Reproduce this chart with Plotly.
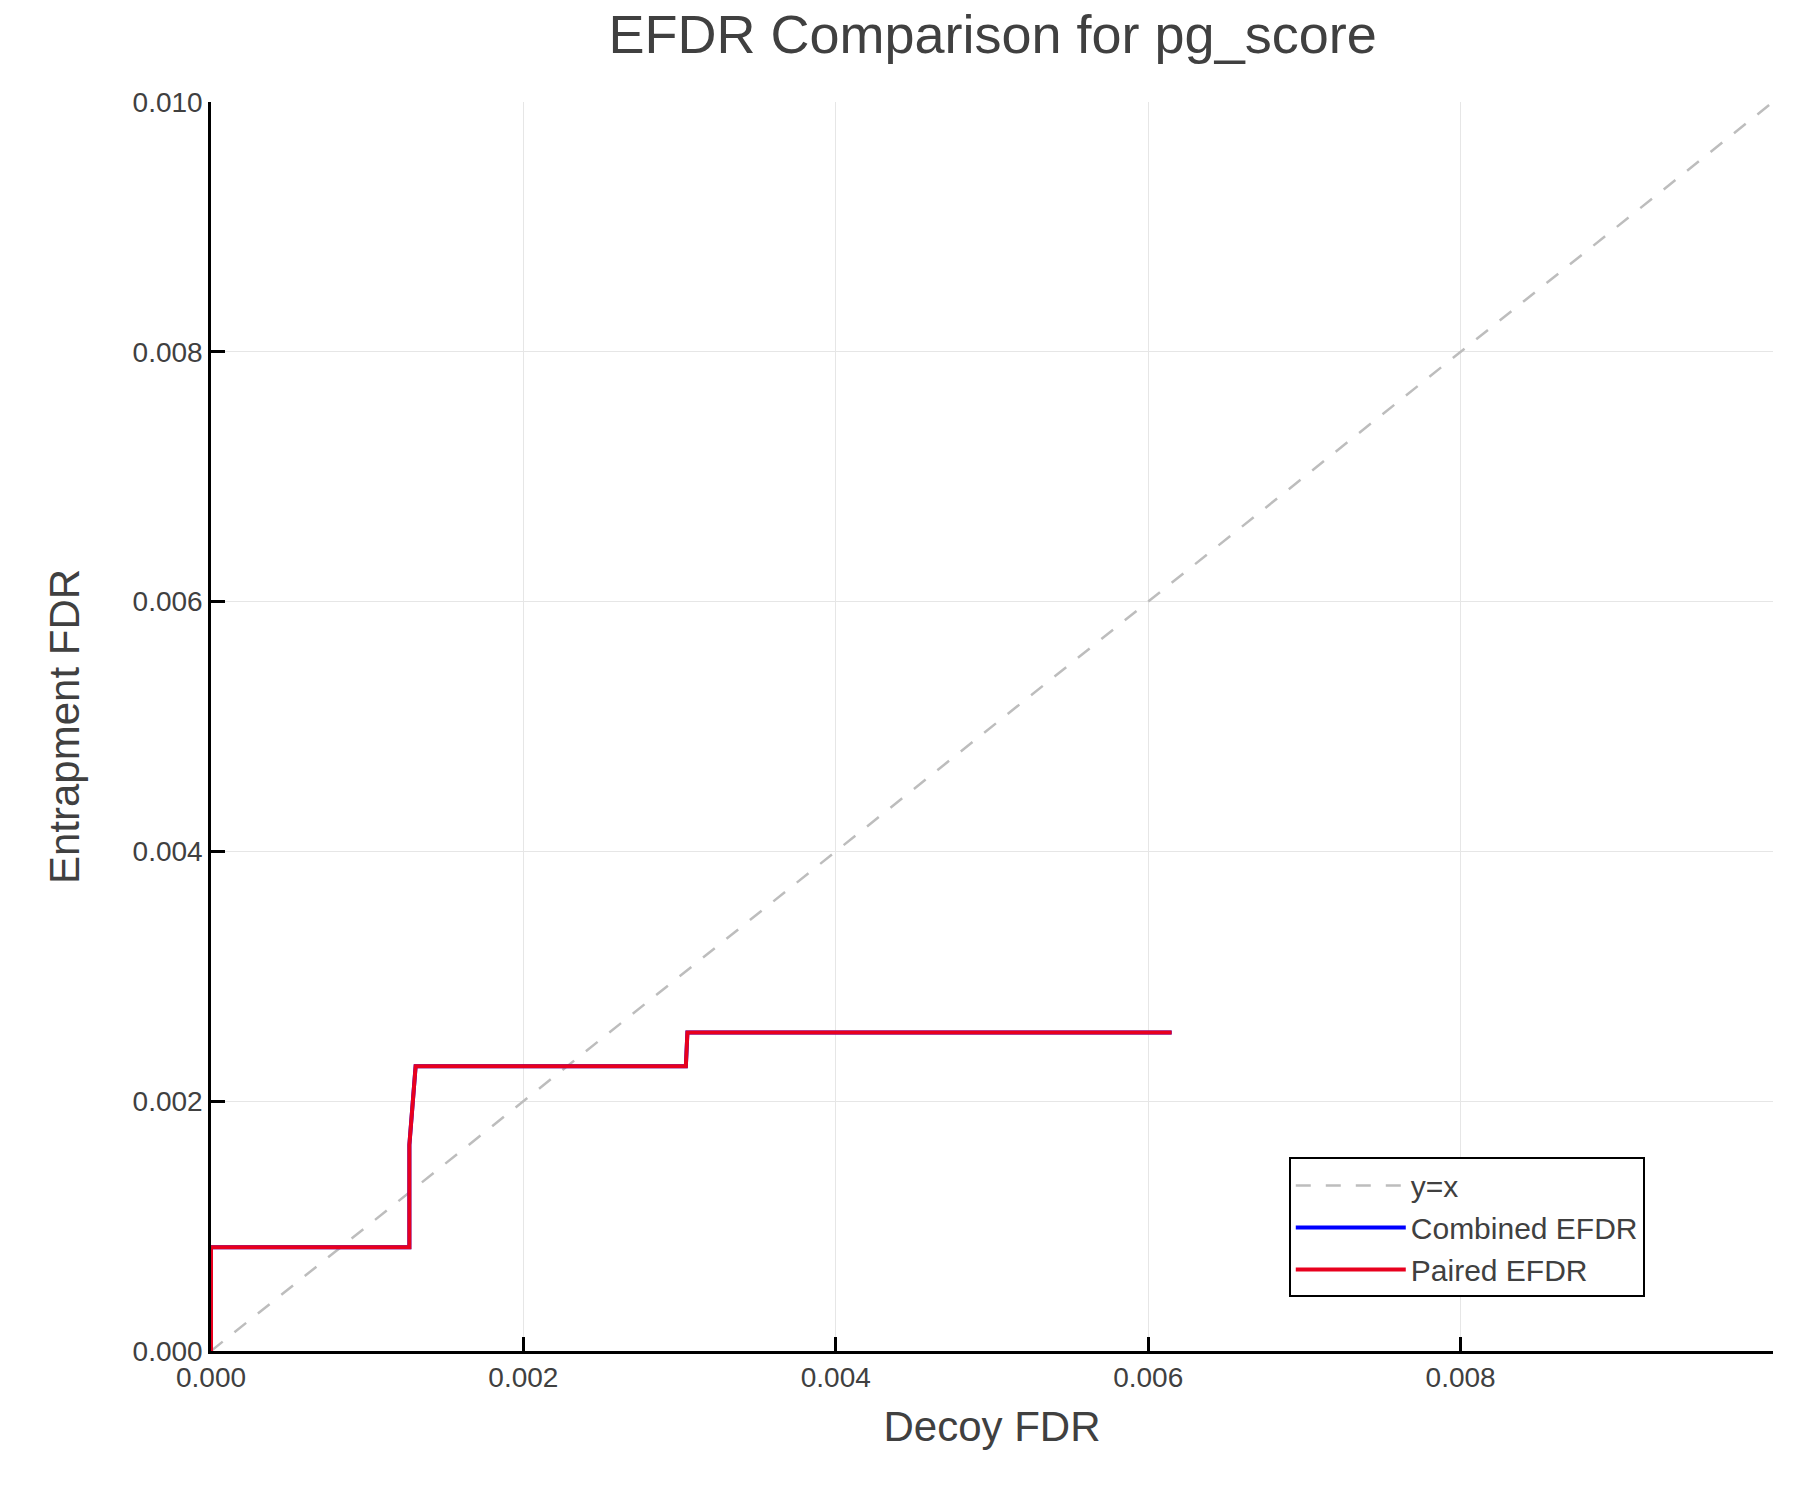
import plotly.graph_objects as go

# Decoy FDR vs entrapment FDR (step curves)
decoy_fdr = [0.0, 0.0, 0.00127, 0.00127, 0.00131, 0.00304, 0.00305, 0.00615]
combined_efdr = [0.0, 0.00083, 0.00083, 0.00165, 0.00228, 0.00228, 0.00255, 0.00255]
paired_efdr = [0.0, 0.00083, 0.00083, 0.00165, 0.00228, 0.00228, 0.00255, 0.00255]
diag = [0.0, 0.01]

font = "Liberation Sans, Arial, sans-serif"

fig = go.Figure()
fig.add_trace(go.Scatter(x=diag, y=diag, mode="lines", name="y=x",
                         line=dict(color="#bdbdbd", width=2.5, dash="longdash")))
fig.add_trace(go.Scatter(x=decoy_fdr, y=combined_efdr, mode="lines", name="Combined EFDR",
                         line=dict(color="blue", width=4)))
fig.add_trace(go.Scatter(x=decoy_fdr, y=paired_efdr, mode="lines", name="Paired EFDR",
                         line=dict(color="#e8001e", width=4)))

axis = dict(range=[0, 0.01], dtick=0.002, tickformat=".3f", showgrid=True,
            gridcolor="#e6e6e6", zeroline=False, showline=True, linecolor="black",
            linewidth=2.5, ticks="inside", ticklen=14, tickwidth=2.5, tickcolor="black",
            tickfont=dict(size=28, color="#404040", family=font),
            title_font=dict(size=42, color="#404040", family=font))

fig.update_layout(
    width=1800, height=1500,
    paper_bgcolor="white", plot_bgcolor="white",
    margin=dict(l=203, r=35, t=94, b=157),
    title=dict(text="EFDR Comparison for pg_score", x=0.547, xanchor="center", y=0.995,
               yanchor="top", font=dict(size=54, color="#404040", family=font)),
    xaxis=dict(axis, title_text="Decoy FDR", title_standoff=20),
    yaxis=dict(axis, title_text="Entrapment FDR", title_standoff=40),
    legend=dict(x=0.69, y=0.155, xanchor="left", yanchor="top",
                bordercolor="black", borderwidth=2, bgcolor="white",
                font=dict(size=30, color="#404040", family=font),
                itemwidth=110, tracegroupgap=0),
)

fig.write_html("out.html")
